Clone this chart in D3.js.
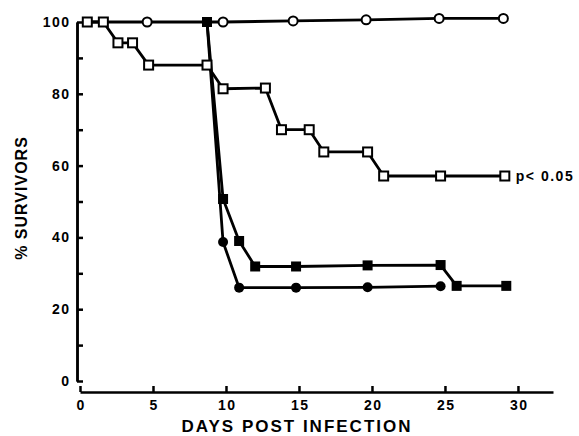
<!DOCTYPE html>
<html>
<head>
<meta charset="utf-8">
<script src="https://cdn.jsdelivr.net/npm/d3@7"></script>
<style>
  body { margin: 0; background: #fff; }
  svg text { font-family: "Liberation Sans", Arial, sans-serif; font-weight: bold; fill: #000; }
</style>
</head>
<body>
<div id="chart"></div>
<script>
// Data (day, % survivors)
var controlDays = [0.5, 1.6, 4.6, 9.8, 14.6, 19.6, 24.6, 29.0];
var controlVals = [100, 100, 100, 100, 100.3, 100.6, 101, 101];

var openSqDays = [0.5, 1.6, 2.6, 3.6, 4.7, 8.7, 9.8, 12.7, 13.8, 15.7, 16.7, 19.7, 20.8, 24.7, 29.1];
var openSqVals = [100, 100, 94.2, 94.2, 88, 88, 81.4, 81.6, 70, 70, 63.8, 63.8, 57.1, 57.1, 57.1];

var fillSqDays = [8.7, 9.8, 10.9, 12.0, 14.8, 19.7, 24.7, 25.8, 29.2];
var fillSqVals = [100, 50.7, 39, 31.9, 31.9, 32.2, 32.3, 26.5, 26.5];

var fillCircDays = [8.7, 9.8, 10.9, 14.8, 19.7, 24.7];
var fillCircVals = [100, 38.7, 26, 26, 26.1, 26.4];

var yMajor = [0, 20, 40, 60, 80, 100];
var yMinor = [10, 30, 50, 70, 90];
var xTicks = [0, 5, 10, 15, 20, 25, 30];

var svgWidth = 579;
var svgHeight = 436;

var svg = d3.select("#chart")
  .append("svg")
  .attr("width", svgWidth)
  .attr("height", svgHeight);

var x = d3.scaleLinear().domain([0, 32.4]).range([80, 553]);
var y = d3.scaleLinear().domain([0, 100]).range([381, 22]);

// y axis, ticks pointing inward
var yAxis = svg.append("g")
  .attr("transform", "translate(77,0)")
  .call(d3.axisLeft(y).tickValues(yMajor).tickSizeInner(-6).tickSizeOuter(0).tickPadding(8));
svg.append("g")
  .attr("transform", "translate(77,0)")
  .call(d3.axisLeft(y).tickValues(yMinor).tickSizeInner(-6).tickSizeOuter(0).tickFormat(""));

// x axis, separate baseline below zero
var xAxis = svg.append("g")
  .attr("transform", "translate(0,392)")
  .call(d3.axisBottom(x).tickValues(xTicks).tickSizeInner(-6).tickSizeOuter(0).tickPadding(8));

svg.selectAll(".domain, .tick line")
  .attr("stroke", "#000")
  .attr("stroke-width", 2.5);
svg.selectAll(".tick text")
  .attr("font-size", "14px")
  .attr("letter-spacing", "1.5px");
// letter-spacing adds trailing space; nudge so labels stay aligned
xAxis.selectAll(".tick text").attr("dx", "0.75px");
yAxis.selectAll(".tick text").attr("dx", "1.5px");

// series
var line = d3.line().x(d => x(d[0])).y(d => y(d[1]));

function pairs(days, vals) {
  return days.map((d, i) => [d, vals[i]]);
}

var control = pairs(controlDays, controlVals);
var openSq = pairs(openSqDays, openSqVals);
var fillSq = pairs(fillSqDays, fillSqVals);
var fillCirc = pairs(fillCircDays, fillCircVals);

[control, openSq, fillSq, fillCirc].forEach(function(s) {
  svg.append("path")
    .datum(s)
    .attr("d", line)
    .attr("fill", "none")
    .attr("stroke", "#000")
    .attr("stroke-width", 2.8)
    .attr("stroke-linejoin", "round");
});

// markers
svg.append("g").selectAll("circle")
  .data(fillCirc)
  .enter()
  .append("circle")
  .attr("cx", d => x(d[0]))
  .attr("cy", d => y(d[1]))
  .attr("r", 5)
  .attr("fill", "#000");

svg.append("g").selectAll("rect")
  .data(fillSq)
  .enter()
  .append("rect")
  .attr("x", d => x(d[0]) - 5)
  .attr("y", d => y(d[1]) - 5)
  .attr("width", 10)
  .attr("height", 10)
  .attr("fill", "#000");

svg.append("g").selectAll("rect")
  .data(openSq)
  .enter()
  .append("rect")
  .attr("x", d => x(d[0]) - 4.5)
  .attr("y", d => y(d[1]) - 4.5)
  .attr("width", 9)
  .attr("height", 9)
  .attr("fill", "#fff")
  .attr("stroke", "#000")
  .attr("stroke-width", 2);

svg.append("g").selectAll("circle")
  .data(control.slice(2))
  .enter()
  .append("circle")
  .attr("cx", d => x(d[0]))
  .attr("cy", d => y(d[1]))
  .attr("r", 4.5)
  .attr("fill", "#fff")
  .attr("stroke", "#000")
  .attr("stroke-width", 2);

// annotation
svg.append("text")
  .attr("x", x(29.1) + 11)
  .attr("y", y(57.1) + 5)
  .attr("font-size", "14px")
  .attr("letter-spacing", "1.5px")
  .text("p< 0.05");

// axis labels
svg.append("text")
  .attr("x", 297)
  .attr("y", 432)
  .attr("text-anchor", "middle")
  .attr("font-size", "17px")
  .attr("letter-spacing", "2px")
  .text("DAYS POST INFECTION");

svg.append("text")
  .attr("transform", "translate(27,198) rotate(-90)")
  .attr("text-anchor", "middle")
  .attr("font-size", "16px")
  .attr("letter-spacing", "1px")
  .text("% SURVIVORS");
</script>
</body>
</html>
